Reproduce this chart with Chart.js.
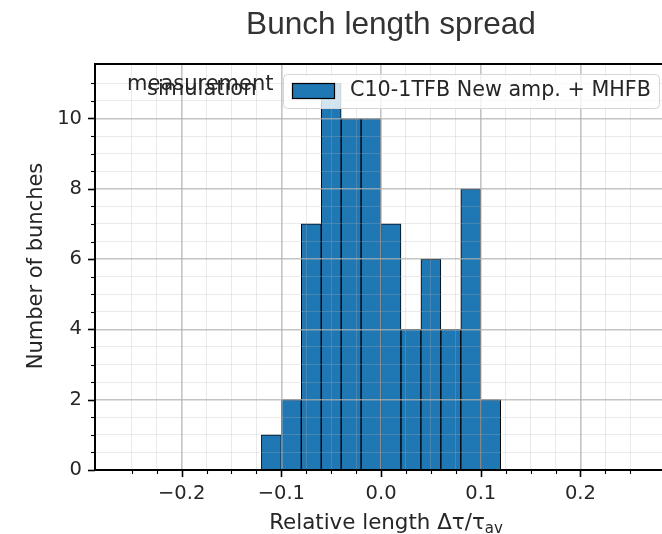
<!DOCTYPE html>
<html>
<head>
<meta charset="utf-8">
<script src="https://cdn.jsdelivr.net/npm/chart.js@4"></script>
<style>
    html, body { margin: 0; padding: 0; background: #fff; overflow: hidden; }
    #wrap { width: 662px; height: 534px; }
</style>
</head>
<body>
<div id="wrap"><canvas id="grafico" width="662" height="534"></canvas></div>
<script>
// dados do histograma (centro de cada bin, largura 0.02)
const centrosBins = [-0.11, -0.09, -0.07, -0.05, -0.03, -0.01, 0.01, 0.03, 0.05, 0.07, 0.09, 0.11];
const contagens = [1, 2, 7, 11, 10, 10, 7, 4, 6, 4, 8, 2];
const ticksX = [-0.2, -0.1, 0, 0.1, 0.2];
const ticksY = [0, 2, 4, 6, 8, 10];
const titulo = 'Bunch length spread';
const rotuloSerie = 'C10-1TFB New amp. + MHFB';
const textosCanto = ['measurement', 'simulation'];

const passoX = 0.025;
const passoY = 0.5;
const corTexto = '#262626';

function noPasso(v, passo) {
    return Math.abs(v / passo - Math.round(v / passo)) < 1e-6;
}

function ehMaior(v, lista) {
    return lista.some((t) => Math.abs(t - v) < 1e-9);
}

function corGrade(lista, passo) {
    return (ctx) => {
        const v = ctx.tick.value;
        if (!noPasso(v, passo)) return 'rgba(0,0,0,0)';
        return ehMaior(v, lista) ? 'rgba(176,176,176,0.75)' : 'rgba(176,176,176,0.3)';
    };
}

function larguraGrade(lista) {
    return (ctx) => ehMaior(ctx.tick.value, lista) ? 1.6 : 0.9;
}

const extras = {
    id: 'extras',
    afterDraw(chart) {
        const ctx = chart.ctx;
        const area = chart.chartArea;
        const sx = chart.scales.x;
        const sy = chart.scales.y;
        ctx.save();

        // marcas dos ticks (maiores e menores)
        ctx.strokeStyle = '#000';
        sx.ticks.forEach((t) => {
            if (!noPasso(t.value, passoX)) return;
            const maior = ehMaior(t.value, ticksX);
            const px = Math.round(sx.getPixelForValue(t.value)) + 0.5;
            ctx.lineWidth = maior ? 1.6 : 1.1;
            ctx.beginPath();
            ctx.moveTo(px, area.bottom);
            ctx.lineTo(px, area.bottom + (maior ? 7 : 4));
            ctx.stroke();
        });
        sy.ticks.forEach((t) => {
            if (!noPasso(t.value, passoY)) return;
            const maior = ehMaior(t.value, ticksY);
            const py = Math.round(sy.getPixelForValue(t.value)) + 0.5;
            ctx.lineWidth = maior ? 1.6 : 1.1;
            ctx.beginPath();
            ctx.moveTo(area.left - (maior ? 7 : 4), py);
            ctx.lineTo(area.left, py);
            ctx.stroke();
        });

        // borda de cima
        ctx.lineWidth = 2;
        ctx.beginPath();
        ctx.moveTo(area.left - 1, area.top);
        ctx.lineTo(area.right, area.top);
        ctx.stroke();

        // textos sobrepostos no canto
        ctx.fillStyle = corTexto;
        ctx.font = '21px "DejaVu Sans"';
        ctx.textAlign = 'left';
        ctx.textBaseline = 'alphabetic';
        ctx.fillText(textosCanto[0], 127, 90);
        ctx.fillText(textosCanto[1], 147, 95);

        // legenda
        const lx = 283, ly = 74, lw = 376, lh = 34;
        ctx.beginPath();
        ctx.roundRect(lx + 0.5, ly + 0.5, lw, lh, 4);
        ctx.fillStyle = 'rgba(255,255,255,0.8)';
        ctx.fill();
        ctx.strokeStyle = '#d6d6d6';
        ctx.lineWidth = 1;
        ctx.stroke();
        ctx.fillStyle = '#1f77b4';
        ctx.fillRect(292, 83, 42, 15);
        ctx.strokeStyle = '#000';
        ctx.lineWidth = 1.2;
        ctx.strokeRect(292.5, 83.5, 42, 15);
        ctx.fillStyle = corTexto;
        ctx.font = '20.7px "DejaVu Sans"';
        ctx.textBaseline = 'middle';
        ctx.fillText(rotuloSerie, 350, 91);

        // titulo
        ctx.font = '31.6px "Liberation Sans"';
        ctx.textAlign = 'center';
        ctx.textBaseline = 'alphabetic';
        ctx.fillStyle = '#333';
        ctx.fillText(titulo, 391, 34);

        // rotulo do eixo y
        ctx.fillStyle = corTexto;
        ctx.font = '21px "DejaVu Sans"';
        ctx.save();
        ctx.translate(37, 266);
        ctx.rotate(-Math.PI / 2);
        ctx.textBaseline = 'middle';
        ctx.fillText('Number of bunches', 0, 0);
        ctx.restore();

        // rotulo do eixo x com subscrito
        const principal = 'Relative length Δτ/τ';
        const sub = 'av';
        ctx.font = '21.4px "DejaVu Sans"';
        const w1 = ctx.measureText(principal).width;
        ctx.font = '15px "DejaVu Sans"';
        const w2 = ctx.measureText(sub).width;
        const x0 = 386 - (w1 + w2) / 2;
        ctx.textAlign = 'left';
        ctx.font = '21.4px "DejaVu Sans"';
        ctx.fillText(principal, x0, 529);
        ctx.font = '15px "DejaVu Sans"';
        ctx.fillText(sub, x0 + w1, 533);

        ctx.restore();
    }
};

const canvas = document.getElementById('grafico');

const grafico = new Chart(canvas, {
    type: 'bar',
    data: {
        datasets: [{
            label: rotuloSerie,
            data: centrosBins.map((x, i) => ({ x: x, y: contagens[i] })),
            backgroundColor: '#1f77b4',
            borderColor: '#000',
            borderWidth: 1,
            barPercentage: 1,
            categoryPercentage: 1
        }]
    },
    options: {
        responsive: false,
        animation: false,
        devicePixelRatio: 1,
        layout: { padding: { top: 64, left: 0, right: 0, bottom: 0 } },
        plugins: {
            legend: { display: false },
            title: { display: false },
            tooltip: { enabled: false }
        },
        scales: {
            x: {
                type: 'linear',
                offset: false,
                min: -0.2869,
                max: 0.2818,
                afterFit: (s) => { s.height = 64; },
                grid: {
                    offset: false,
                    z: 1,
                    drawTicks: false,
                    color: corGrade(ticksX, passoX),
                    lineWidth: larguraGrade(ticksX)
                },
                border: { z: 2, color: '#000', width: 2 },
                ticks: {
                    stepSize: passoX,
                    autoSkip: false,
                    maxRotation: 0,
                    padding: 0,
                    color: corTexto,
                    font: { family: 'DejaVu Sans', size: 19.5, lineHeight: 2.46 },
                    callback: (v) => {
                        if (!ehMaior(v, ticksX)) return '';
                        return Math.abs(v) < 1e-9 ? '0.0' : v.toFixed(1).replace('-', '\u2212');
                    }
                }
            },
            y: {
                min: 0,
                max: 11.55,
                afterFit: (s) => { s.width = 95; },
                grid: {
                    z: 1,
                    drawTicks: false,
                    color: corGrade(ticksY, passoY),
                    lineWidth: larguraGrade(ticksY)
                },
                border: { z: 2, color: '#000', width: 2 },
                ticks: {
                    stepSize: passoY,
                    autoSkip: false,
                    padding: 13,
                    color: corTexto,
                    font: { family: 'DejaVu Sans', size: 19.5 },
                    callback: (v) => ehMaior(v, ticksY) ? String(v) : ''
                }
            }
        }
    },
    plugins: [extras]
});
</script>
</body>
</html>
